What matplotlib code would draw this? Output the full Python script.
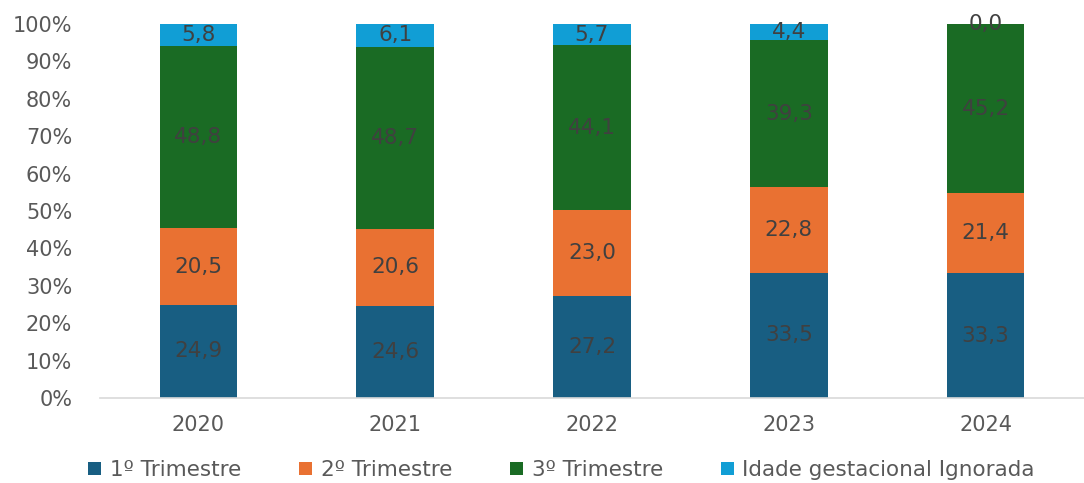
import matplotlib.pyplot as plt
import numpy as np

anos = ["2020", "2021", "2022", "2023", "2024"]
tri1 = [24.9, 24.6, 27.2, 33.5, 33.3]
tri2 = [20.5, 20.6, 23.0, 22.8, 21.4]
tri3 = [48.8, 48.7, 44.1, 39.3, 45.2]
ignorada = [5.8, 6.1, 5.7, 4.4, 0.0]

series = [
    ("1º Trimestre", tri1, "#185E82"),
    ("2º Trimestre", tri2, "#E97132"),
    ("3º Trimestre", tri3, "#1A6B24"),
    ("Idade gestacional Ignorada", ignorada, "#119ED5"),
]

plt.rcParams['font.family'] = ['DejaVu Sans']

fig = plt.figure(figsize=(10.84, 4.83), dpi=100)
ax = fig.add_axes([100 / 1084, 1 - 398 / 483, 984 / 1084, 374 / 483])

x = np.arange(len(anos))
bottom = np.zeros(len(anos))
for nome, vals, cor in series:
    vals = np.array(vals)
    ax.bar(x, vals, 0.395, bottom=bottom, color=cor, label=nome, zorder=2)
    for xi, b, v in zip(x, bottom, vals):
        ax.text(xi, b + v / 2, f"{v:.1f}".replace(".", ","), ha="center", va="center",
                fontsize=15.5, color="#404040")
    bottom += vals

ax.set_xlim(-0.5, 4.5)
ax.set_ylim(0, 100)
ax.set_yticks(range(0, 101, 10))
ax.set_yticklabels([f"{v}%" for v in range(0, 101, 10)])
ax.set_xticks(x)
ax.set_xticklabels(anos)
ax.tick_params(axis="both", length=0, labelsize=15, colors="#595959")
ax.tick_params(axis="y", pad=20)
ax.tick_params(axis="x", pad=12)
for s in ["top", "right", "left"]:
    ax.spines[s].set_visible(False)
ax.spines["bottom"].set_color("#D9D9D9")
ax.spines["bottom"].set_linewidth(1.2)

fig.legend(loc="center", bbox_to_anchor=(0.518, 0.027), ncol=4, frameon=False,
           fontsize=15.5, labelcolor="#595959", handlelength=0.6, handleheight=0.6,
           handletextpad=0.4, columnspacing=2.7)

fig.savefig("out.png", dpi=100)
